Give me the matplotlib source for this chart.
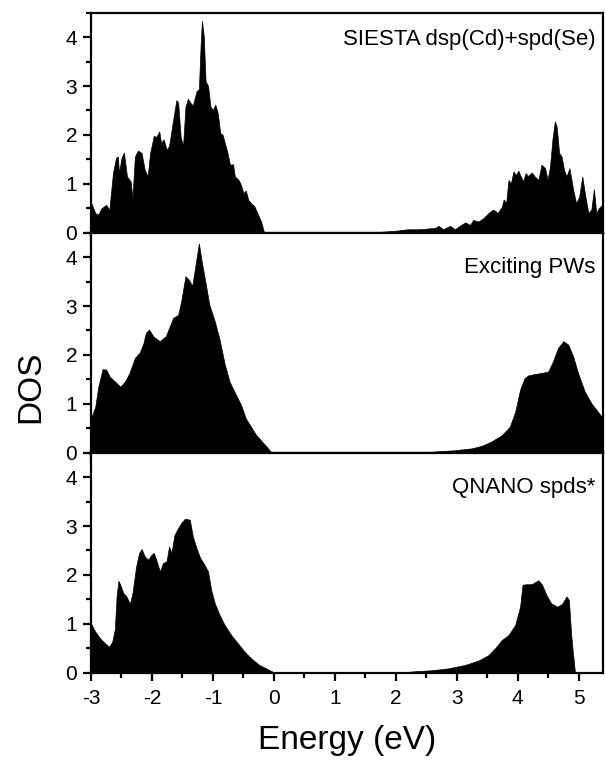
import numpy as np
import matplotlib.pyplot as plt
from matplotlib.ticker import MultipleLocator

plt.rcParams['font.family'] = ['Liberation Sans', 'DejaVu Sans']
plt.rcParams['axes.unicode_minus'] = False

# SIESTA dsp(Cd)+spd(Se)
e_siesta = [-3.0, -2.99, -2.93, -2.88, -2.83, -2.75, -2.70, -2.64, -2.59, -2.56, -2.54, -2.50,
            -2.46, -2.41, -2.35, -2.32, -2.28, -2.23, -2.17, -2.12, -2.07, -2.03, -1.97,
            -1.93, -1.88, -1.85, -1.81, -1.76, -1.72, -1.67, -1.60, -1.57, -1.53, -1.49,
            -1.45, -1.41, -1.37, -1.33, -1.27, -1.23, -1.20, -1.18, -1.15, -1.12, -1.08,
            -1.04, -1.00, -0.96, -0.92, -0.88, -0.84, -0.79, -0.76, -0.72, -0.67, -0.64,
            -0.58, -0.54, -0.50, -0.46, -0.42, -0.37, -0.32, -0.27, -0.21, -0.16,
            0.0, 1.50, 1.78, 2.00, 2.19, 2.38, 2.48, 2.65, 2.70, 2.78, 2.89, 2.97, 3.06,
            3.14, 3.22, 3.27, 3.36, 3.44, 3.52, 3.59, 3.63, 3.67, 3.74, 3.77, 3.81, 3.85,
            3.89, 3.93, 3.97, 4.01, 4.05, 4.09, 4.13, 4.17, 4.23, 4.28, 4.34, 4.39, 4.45,
            4.49, 4.53, 4.57, 4.61, 4.64, 4.68, 4.72, 4.76, 4.80, 4.85, 4.91, 4.96, 5.01,
            5.06, 5.11, 5.16, 5.21, 5.25, 5.29, 5.33, 5.37, 5.40]
dos_siesta = [0.62, 0.59, 0.40, 0.37, 0.50, 0.57, 0.46, 1.22, 1.53, 1.56, 1.22, 1.53,
              1.64, 1.15, 1.05, 0.71, 1.56, 1.68, 1.63, 1.29, 1.15, 1.63, 1.98,
              1.96, 2.07, 1.83, 1.91, 1.70, 1.77, 2.17, 2.71, 2.66, 1.97, 1.77,
              2.58, 2.74, 2.66, 2.60, 2.89, 2.94, 3.88, 4.33, 4.02, 3.10, 3.00,
              2.58, 2.51, 2.62, 2.44, 2.04, 2.00, 1.77, 1.63, 1.39, 1.40, 1.15,
              1.08, 0.98, 0.81, 0.86, 0.67, 0.60, 0.54, 0.40, 0.23, 0.0,
              0.0, 0.0, 0.02, 0.04, 0.07, 0.07, 0.08, 0.10, 0.14, 0.07, 0.14, 0.07, 0.15,
              0.21, 0.16, 0.26, 0.23, 0.30, 0.40, 0.47, 0.45, 0.40, 0.53, 0.68, 0.60, 1.08,
              1.01, 1.25, 1.18, 1.27, 1.15, 1.05, 1.22, 1.16, 1.23, 1.15, 1.08, 1.39, 1.32,
              1.08, 1.35, 1.90, 2.28, 2.17, 1.63, 1.56, 1.29, 1.15, 1.32, 0.88, 0.60, 0.74,
              1.15, 0.74, 0.40, 0.48, 0.89, 0.40, 0.50, 0.55, 0.57]

# Exciting PWs
e_pw = [-3.0, -2.99, -2.93, -2.88, -2.81, -2.75, -2.69, -2.61, -2.52, -2.44, -2.37, -2.28,
        -2.20, -2.14, -2.10, -2.05, -1.97, -1.87, -1.77, -1.71, -1.65, -1.57, -1.52,
        -1.45, -1.39, -1.34, -1.28, -1.23, -1.18, -1.12, -1.06, -0.97, -0.89, -0.81,
        -0.73, -0.62, -0.54, -0.46, -0.37, -0.29, -0.21, -0.13, -0.05, -0.02,
        1.0, 2.48, 2.70, 2.97, 3.25, 3.41, 3.57, 3.74, 3.87, 3.96, 4.04, 4.11, 4.17,
        4.28, 4.39, 4.50, 4.58, 4.66, 4.75, 4.83, 4.91, 4.99, 5.10, 5.21, 5.29, 5.40]
dos_pw = [0.70, 0.74, 0.94, 1.35, 1.71, 1.70, 1.55, 1.46, 1.35, 1.46, 1.63, 1.94,
          2.05, 2.24, 2.45, 2.52, 2.37, 2.28, 2.39, 2.58, 2.76, 2.82, 3.10,
          3.61, 3.53, 3.41, 3.88, 4.28, 3.88, 3.47, 3.03, 2.69, 2.31, 1.83,
          1.46, 1.18, 0.98, 0.70, 0.52, 0.36, 0.25, 0.14, 0.02, 0.0,
          0.0, 0.01, 0.03, 0.05, 0.09, 0.14, 0.23, 0.36, 0.53, 0.84, 1.29, 1.52, 1.58,
          1.61, 1.63, 1.66, 1.87, 2.14, 2.28, 2.21, 1.97, 1.63, 1.25, 1.01, 0.88, 0.70]

# QNANO spds*
e_qn = [-3.0, -2.99, -2.93, -2.85, -2.77, -2.70, -2.65, -2.61, -2.58, -2.55, -2.52, -2.47,
        -2.42, -2.36, -2.32, -2.26, -2.21, -2.17, -2.12, -2.06, -2.01, -1.97, -1.93,
        -1.87, -1.82, -1.76, -1.72, -1.68, -1.63, -1.57, -1.52, -1.46, -1.38, -1.33,
        -1.27, -1.21, -1.14, -1.08, -1.03, -0.97, -0.89, -0.81, -0.70, -0.59, -0.48,
        -0.37, -0.24, -0.13, -0.05, 0.01,
        1.0, 2.05, 2.32, 2.59, 2.87, 3.14, 3.36, 3.52, 3.63, 3.74, 3.85, 3.96, 4.04,
        4.08, 4.15, 4.23, 4.28, 4.34, 4.40, 4.47, 4.55, 4.65, 4.73, 4.80, 4.84, 4.88,
        4.94, 5.40]
dos_qn = [1.00, 0.98, 0.84, 0.70, 0.60, 0.53, 0.64, 0.88, 1.56, 1.88, 1.80, 1.63,
          1.56, 1.41, 1.63, 2.17, 2.45, 2.53, 2.38, 2.31, 2.41, 2.45, 2.31,
          2.07, 2.24, 2.28, 2.58, 2.45, 2.82, 2.96, 3.06, 3.15, 3.13, 2.79,
          2.55, 2.35, 2.21, 2.07, 1.70, 1.42, 1.18, 0.98, 0.77, 0.60, 0.43,
          0.29, 0.16, 0.09, 0.04, 0.0,
          0.01, 0.0, 0.03, 0.05, 0.09, 0.16, 0.25, 0.36, 0.50, 0.67, 0.77, 0.98, 1.35,
          1.80, 1.81, 1.81, 1.85, 1.89, 1.80, 1.59, 1.42, 1.35, 1.41, 1.56, 1.49, 0.74,
          0.0, 0.0]

series = [(e_siesta, dos_siesta, 'SIESTA dsp(Cd)+spd(Se)'),
          (e_pw, dos_pw, 'Exciting PWs'),
          (e_qn, dos_qn, 'QNANO spds*')]

fig = plt.figure(figsize=(6.05, 7.73), dpi=100)
left, width = 91 / 605, 512 / 605
h = 220 / 773
bottom0 = 1 - 672.7 / 773

axes = []
for i, (e, d, label) in enumerate(series):
    ax = fig.add_axes([left, bottom0 + (2 - i) * h, width, h])
    ax.fill_between(e, d, 0, color='black', linewidth=0.5)
    ax.set_xlim(-3, 5.4)
    ax.set_ylim(0, 4.5)
    ax.xaxis.set_major_locator(MultipleLocator(1))
    ax.xaxis.set_minor_locator(MultipleLocator(0.5))
    ax.yaxis.set_major_locator(MultipleLocator(1))
    ax.yaxis.set_minor_locator(MultipleLocator(0.5))
    ax.tick_params(which='major', direction='out', length=6, width=1.6, labelsize=15, pad=4)
    ax.tick_params(axis='x', which='major', pad=6)
    ax.tick_params(which='minor', direction='out', length=3.5, width=1.6)
    for s in ax.spines.values():
        s.set_linewidth(1.6)
    ax.text(0.985, 0.88 if i == 0 else 0.84, label, transform=ax.transAxes,
            ha='right', va='center', fontsize=16)
    if i < 2:
        ax.tick_params(labelbottom=False)
    axes.append(ax)

axes[2].set_xlabel('Energy (eV)', fontsize=24, labelpad=12)
fig.text(0.05, 0.5, 'DOS', rotation=90, ha='center', va='center', fontsize=24)

fig.savefig('out.png', dpi=100)
